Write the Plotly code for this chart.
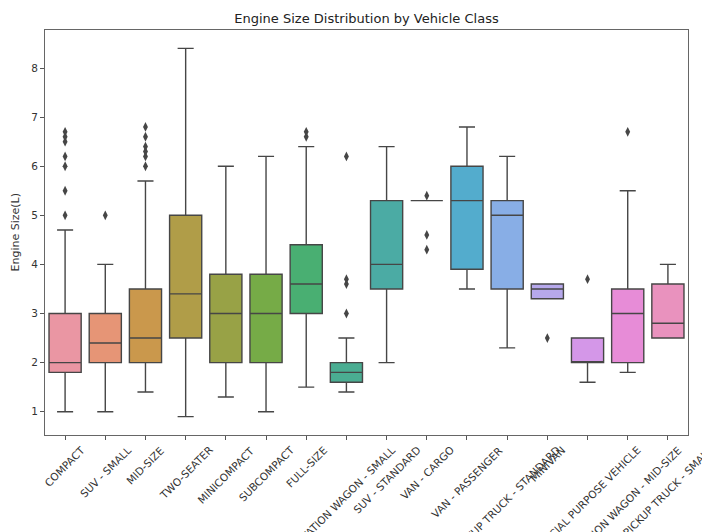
import math
import colorsys
import plotly.graph_objects as go

# ---------------- data ----------------
categories = ["COMPACT", "SUV - SMALL", "MID-SIZE", "TWO-SEATER", "MINICOMPACT",
              "SUBCOMPACT", "FULL-SIZE", "STATION WAGON - SMALL", "SUV - STANDARD",
              "VAN - CARGO", "VAN - PASSENGER", "PICKUP TRUCK - STANDARD", "MINIVAN",
              "SPECIAL PURPOSE VEHICLE", "STATION WAGON - MID-SIZE", "PICKUP TRUCK - SMALL"]
q1_vals = [1.8, 2.0, 2.0, 2.5, 2.0, 2.0, 3.0, 1.6, 3.5, 5.3, 3.9, 3.5, 3.3, 2.0, 2.0, 2.5]
median_vals = [2.0, 2.4, 2.5, 3.4, 3.0, 3.0, 3.6, 1.8, 4.0, 5.3, 5.3, 5.0, 3.5, 2.0, 3.0, 2.8]
q3_vals = [3.0, 3.0, 3.5, 5.0, 3.8, 3.8, 4.4, 2.0, 5.3, 5.3, 6.0, 5.3, 3.6, 2.5, 3.5, 3.6]
low_whisker = [1.0, 1.0, 1.4, 0.9, 1.3, 1.0, 1.5, 1.4, 2.0, 5.3, 3.5, 2.3, 3.3, 1.6, 1.8, 2.5]
high_whisker = [4.7, 4.0, 5.7, 8.4, 6.0, 6.2, 6.4, 2.5, 6.4, 5.3, 6.8, 6.2, 3.6, 2.5, 5.5, 4.0]
outliers = [
    [5.0, 5.5, 6.0, 6.2, 6.5, 6.6, 6.7],
    [5.0],
    [6.0, 6.2, 6.3, 6.4, 6.6, 6.8],
    [],
    [],
    [],
    [6.6, 6.7],
    [3.0, 3.6, 3.7, 6.2],
    [],
    [4.3, 4.6, 5.4],
    [],
    [],
    [2.5],
    [3.7],
    [6.7],
    [],
]
y_ticks = [1, 2, 3, 4, 5, 6, 7, 8]

# ---------------- seaborn-like husl palette ----------------
_m = [[3.2406, -1.5372, -0.4986],
      [-0.9689, 1.8758, 0.0415],
      [0.0557, -0.2040, 1.0570]]
_refU, _refV = 0.19784, 0.46834
_lab_e, _lab_k = 0.008856, 903.3


def _max_chroma(L, H):
    hrad = math.radians(H)
    sinH, cosH = math.sin(hrad), math.cos(hrad)
    sub1 = (L + 16) ** 3.0 / 1560896.0
    sub2 = sub1 if sub1 > 0.008856 else (L / 903.3)
    result = float("inf")
    for m1, m2, m3 in _m:
        top = (0.99915 * m1 + 1.05122 * m2 + 1.14460 * m3) * sub2
        rbottom = 0.86330 * m3 - 0.17266 * m2
        lbottom = 0.12949 * m3 - 0.38848 * m1
        bottom = (rbottom * sinH + lbottom * cosH) * sub2
        for t in (0.0, 1.0):
            C = L * (top - 1.05122 * t) / (bottom + 0.17266 * sinH * t)
            if 0.0 < C < result:
                result = C
    return result


def _f_inv(t):
    return t ** 3 if t ** 3 > _lab_e else (116.0 * t - 16.0) / _lab_k


def _from_linear(c):
    return 12.92 * c if c <= 0.0031308 else 1.055 * c ** (1 / 2.4) - 0.055


def husl_to_rgb(h, s, l):
    C = _max_chroma(l, h) / 100.0 * s
    hr = math.radians(h)
    U, V = C * math.cos(hr), C * math.sin(hr)
    Y = _f_inv((l + 16.0) / 116.0)
    varU = U / (13.0 * l) + _refU
    varV = V / (13.0 * l) + _refV
    X = 0.0 - (9.0 * Y * varU) / ((varU - 4.0) * varV - varU * varV)
    Z = (9.0 * Y - 15.0 * varV * Y - varV * X) / (3.0 * varV)
    rgb = [_from_linear(r[0] * X + r[1] * Y + r[2] * Z) for r in _m]
    return [min(max(c, 0.0), 1.0) for c in rgb]


def palette(n, h=0.01, s=0.9, l=0.7, desat=0.75):
    out = []
    for i in range(n):
        hue = ((i / n + h) % 1) * 359
        rgb = husl_to_rgb(hue, s * 99, l * 99)
        hh, ll, ss = colorsys.rgb_to_hls(*rgb)
        out.append(colorsys.hls_to_rgb(hh, ll, ss * desat))
    return out


cols = palette(len(categories))
lum = min(colorsys.rgb_to_hls(*c)[1] for c in cols) * 0.6
to_hex = lambda c: "#%02x%02x%02x" % tuple(int(round(v * 255)) for v in c)
gray = to_hex((lum, lum, lum))

# ---------------- figure ----------------
# the page body has an 8px margin, so the figure is 8px smaller than the window
W, H = 702, 524
ML, MR, MT, MB = 37, 22, 22, 97
PW = W - ML - MR

fig = go.Figure()
for i, cat in enumerate(categories):
    fig.add_trace(go.Box(
        x=[cat], q1=[q1_vals[i]], median=[median_vals[i]], q3=[q3_vals[i]],
        lowerfence=[low_whisker[i]], upperfence=[high_whisker[i]],
        fillcolor=to_hex(cols[i]), line=dict(color=gray, width=1.4),
        width=0.8, whiskerwidth=0.5, boxpoints=False, showlegend=False,
        hoverinfo="skip"))

ox, oy = [], []
for cat, vals in zip(categories, outliers):
    for v in vals:
        ox.append(cat)
        oy.append(v)
fig.add_trace(go.Scatter(x=ox, y=oy, mode="markers", showlegend=False,
                         marker=dict(symbol="diamond-tall", size=7, color=gray,
                                     line=dict(width=0))))

font = "DejaVu Sans"
annotations = []
for cat in categories:
    annotations.append(dict(x=cat, xref="x", y=0, yref="paper", text=cat,
                            xanchor="center", yanchor="top", textangle=-45,
                            yshift=-6, showarrow=False,
                            font=dict(family=font, size=10.5, color="#333333")))
annotations.append(dict(x=-30 / PW, xref="paper", y=0.5, yref="paper",
                        text="Engine Size(L)", textangle=-90, showarrow=False,
                        xanchor="center", yanchor="middle",
                        font=dict(family=font, size=11, color="#333333")))

fig.update_layout(
    width=W, height=H,
    margin=dict(l=ML, r=MR, t=MT, b=MB),
    paper_bgcolor="white", plot_bgcolor="white",
    boxmode="overlay",
    title=dict(text="Engine Size Distribution by Vehicle Class", x=0.5, xref="paper",
               y=1 - 10 / H, yref="container", yanchor="middle",
               font=dict(family=font, size=13, color="#222222")),
    annotations=annotations,
    font=dict(family=font),
)
fig.update_xaxes(type="category", categoryorder="array", categoryarray=categories,
                 range=[-0.5, len(categories) - 0.5], showticklabels=False,
                 ticks="outside", ticklen=4, tickcolor="#555555",
                 showline=True, mirror=True, linecolor="#666666", linewidth=1,
                 showgrid=False, zeroline=False, automargin=False, fixedrange=True)
fig.update_yaxes(range=[0.525, 8.775], tickvals=y_ticks, ticks="outside", ticklen=4,
                 tickcolor="#555555", tickfont=dict(family=font, size=10.5, color="#333333"),
                 showline=True, mirror=True, linecolor="#666666", linewidth=1,
                 showgrid=False, zeroline=False, automargin=False)

fig.write_html("out.html")
